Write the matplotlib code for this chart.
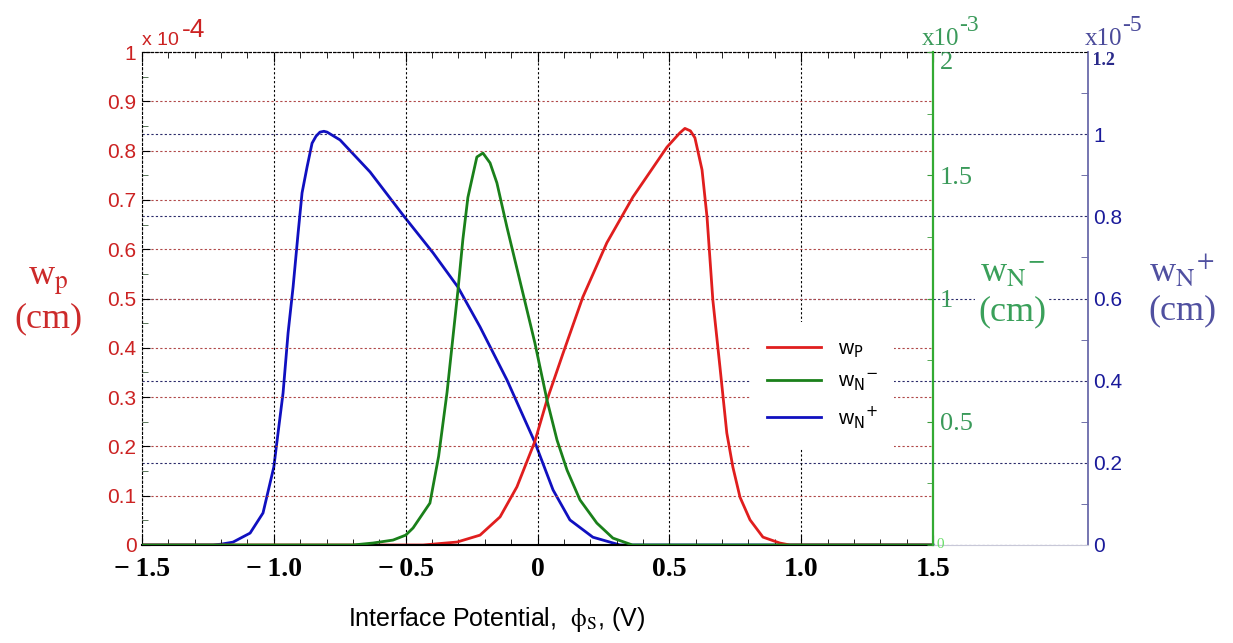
import matplotlib
matplotlib.use('Agg')
import matplotlib.pyplot as plt
from matplotlib.ticker import MultipleLocator, FixedLocator
import numpy as np

# curve data
phi_red = [-1.5, -0.434, -0.305, -0.218, -0.142, -0.078, -0.01, 0.036, 0.097, 0.172,
           0.263, 0.362, 0.491, 0.540, 0.559, 0.580, 0.597, 0.624, 0.643, 0.665,
           0.692, 0.718, 0.741, 0.768, 0.806, 0.855, 0.919, 0.957, 1.5]
w_p = [0, 0, 0.006, 0.020, 0.057, 0.118, 0.21, 0.294, 0.389, 0.503,
       0.613, 0.706, 0.807, 0.836, 0.845, 0.840, 0.826, 0.761, 0.665, 0.497,
       0.361, 0.227, 0.158, 0.097, 0.051, 0.016, 0.004, 0, 0]          # x 1e-4 cm

phi_green = [-1.5, -0.70, -0.624, -0.548, -0.5, -0.472, -0.408, -0.375, -0.343, -0.321,
             -0.302, -0.283, -0.264, -0.230, -0.207, -0.180, -0.154, -0.116, -0.055,
             -0.010, 0.036, 0.074, 0.112, 0.161, 0.225, 0.286, 0.36, 1.5]
w_nminus = [0, 0, 0.008, 0.020, 0.04, 0.069, 0.17, 0.36, 0.62, 0.84,
            1.03, 1.24, 1.41, 1.574, 1.590, 1.550, 1.469, 1.29, 1.02,
            0.82, 0.588, 0.426, 0.304, 0.183, 0.089, 0.028, 0, 0]          # x 1e-3 cm

phi_blue = [-1.5, -1.23, -1.2, -1.155, -1.09, -1.041, -1.0, -0.984, -0.965, -0.946,
            -0.927, -0.908, -0.893, -0.874, -0.855, -0.84, -0.825, -0.81, -0.798,
            -0.749, -0.635, -0.510, -0.396, -0.302, -0.218, -0.116, -0.01, 0.059,
            0.123, 0.210, 0.313, 1.5]
w_nplus = [0, 0, 0.002, 0.007, 0.029, 0.078, 0.19, 0.273, 0.370, 0.516,
           0.628, 0.759, 0.857, 0.920, 0.978, 0.995, 1.005, 1.007, 1.005,
           0.986, 0.908, 0.803, 0.711, 0.628, 0.531, 0.402, 0.25, 0.134,
           0.061, 0.019, 0, 0]                                             # x 1e-5 cm

x_ticks = [-1.5, -1.0, -0.5, 0, 0.5, 1.0, 1.5]
x_labels = ['\u2212\u20091.5', '\u2212\u20091.0', '\u2212\u20090.5', '0', '0.5', '1.0', '1.5']
red_ticks = [0, 0.1, 0.2, 0.3, 0.4, 0.5, 0.6, 0.7, 0.8, 0.9, 1]
red_labels = ['0', '0.1', '0.2', '0.3', '0.4', '0.5', '0.6', '0.7', '0.8', '0.9', '1']
green_ticks = [0.5, 1, 1.5, 2]
green_labels = ['0.5', '1', '1.5', '2']
blue_ticks = [0, 0.2, 0.4, 0.6, 0.8, 1.0]
blue_labels = ['0', '0.2', '0.4', '0.6', '0.8', '1']

SERIF = 'Liberation Serif'
SANS = 'Liberation Sans'
RED = '#e01e1e'
GREEN = '#1a801a'
BLUE = '#1010c0'
dots = (0, (2, 2))

W, H = 1233, 643
fig = plt.figure(figsize=(W / 100, H / 100), dpi=100)

# pixel frame of the main plot
x0, x1, x2 = 142, 933, 1088
ytop, ybot = 52, 545
left, bottom = x0 / W, 1 - ybot / H
width, height = (x1 - x0) / W, (ybot - ytop) / H
width_b = (x2 - x0) / W

# blue axis (extends to the far right spine)
ax_b = fig.add_axes([left, bottom, width_b, height], zorder=0)
ax_b.set_xlim(-1.5, -1.5 + 3.0 * (x2 - x0) / (x1 - x0))
ax_b.set_ylim(0, 1.2)
ax_b.plot(phi_blue, w_nplus, color=BLUE, lw=2)
ax_b.set_xticks([])
ax_b.yaxis.tick_right()
ax_b.set_yticks(blue_ticks)
ax_b.set_yticklabels(blue_labels, fontfamily=SANS, fontsize=15, color='#1a1a9a')
ax_b.yaxis.set_minor_locator(FixedLocator([0.1, 0.3, 0.5, 0.7, 0.9, 1.1]))
ax_b.tick_params(axis='y', which='both', direction='in', color='#5a5a9a', pad=4)
ax_b.tick_params(axis='y', which='major', length=0)
ax_b.tick_params(axis='y', which='minor', length=5)
ax_b.yaxis.grid(True, color='#2a2a6a', ls=dots, lw=0.8)
ax_b.spines['left'].set_visible(False)
ax_b.spines['right'].set_color('#6a6aaa')
ax_b.spines['right'].set_linewidth(1.3)
ax_b.spines['bottom'].set_color('#c8c8d8')
ax_b.spines['top'].set_linestyle(dots)
ax_b.text(1.0, 1.2, ' 1.2', transform=ax_b.get_yaxis_transform(), ha='left', va='top',
          fontfamily=SERIF, fontweight='bold', fontsize=13, color='#2a2a8a')

# main axis (red)
ax = fig.add_axes([left, bottom, width, height], zorder=1)
ax.patch.set_visible(False)
ax.set_xlim(-1.5, 1.5)
ax.set_ylim(0, 1)
l_p, = ax.plot(phi_red, w_p, color=RED, lw=2)
ax.set_xticks(x_ticks)
ax.set_xticklabels(x_labels, fontfamily=SERIF, fontweight='bold', fontsize=20)
ax.xaxis.set_minor_locator(MultipleLocator(0.1))
ax.set_yticks(red_ticks)
ax.set_yticklabels(red_labels, fontfamily=SANS, fontsize=15, color='#cc2222')
ax.yaxis.set_minor_locator(MultipleLocator(0.05))
ax.tick_params(axis='x', which='both', direction='in', top=True, pad=9)
ax.tick_params(axis='x', which='major', length=7)
ax.tick_params(axis='x', which='minor', length=4)
ax.tick_params(axis='y', which='both', direction='in', right=True, pad=4)
ax.tick_params(axis='y', which='major', length=6)
ax.tick_params(axis='y', which='minor', length=4, color='#406040')
ax.xaxis.grid(True, color='black', ls=dots, lw=0.8)
ax.yaxis.grid(True, color='#b04848', ls=dots, lw=0.8)
ax.spines['left'].set_linestyle(dots)
ax.spines['top'].set_linestyle(dots)
ax.spines['bottom'].set_linewidth(1.5)
ax.spines['right'].set_visible(False)

# green axis
ax_g = ax.twinx()
ax_g.set_zorder(2)
ax_g.patch.set_visible(False)
ax_g.set_ylim(0, 2)
l_nm, = ax_g.plot(phi_green, w_nminus, color=GREEN, lw=2)
ax_g.set_yticks(green_ticks)
ax_g.set_yticklabels(green_labels, fontfamily=SERIF, fontsize=19, color='#3a9a5a')
ax_g.yaxis.set_minor_locator(MultipleLocator(0.25))
ax_g.tick_params(axis='y', which='both', direction='in', length=4, color='#3a9a3a', pad=5)
for lab in ax_g.get_yticklabels():
    if lab.get_text() == '2':
        lab.set_verticalalignment('top')
for s in ['left', 'top', 'bottom']:
    ax_g.spines[s].set_visible(False)
ax_g.spines['right'].set_color('#33aa33')
ax_g.spines['right'].set_linewidth(1.6)
ax_g.text(1.0, 0, ' 0', transform=ax_g.get_yaxis_transform(), ha='left', va='center',
          fontfamily=SERIF, fontsize=11, color='#66dd66')

l_np, = ax.plot([], [], color=BLUE, lw=2)
leg = ax_g.legend([l_p, l_nm, l_np],
                  [r'w$_{\mathsf{P}}$', r'w$_{\mathsf{N}}$$^{\mathsf{-}}$',
                   r'w$_{\mathsf{N}}$$^{\mathsf{+}}$'],
                  loc='upper left', bbox_to_anchor=(740 / W, 1 - 312 / H),
                  bbox_transform=fig.transFigure, prop={'family': SANS, 'size': 15},
                  frameon=True, fancybox=False, framealpha=1, edgecolor='none',
                  handlelength=2.6, labelspacing=0.55, borderpad=0.8)

# exponent labels at the top
fig.text(x0 / W, 1 - 45 / H, 'x 10', fontfamily=SANS, fontsize=14, color='#cc2222')
fig.text(182 / W, 1 - 37 / H, '-4', fontfamily=SANS, fontsize=19, color='#cc2222')
fig.text(922 / W, 1 - 45 / H, 'x10', fontfamily=SERIF, fontsize=18, color='#3a9a5a')
fig.text(959 / W, 1 - 31 / H, '-3', fontfamily=SERIF, fontsize=17, color='#3a9a5a')
fig.text(1085 / W, 1 - 45 / H, 'x10', fontfamily=SERIF, fontsize=18, color='#4a4a9a')
fig.text(1122 / W, 1 - 31 / H, '-5', fontfamily=SERIF, fontsize=17, color='#4a4a9a')

# axis titles
fig.text(48 / W, 1 - 300 / H, 'w$_\\mathrm{p}$\n(cm)', ha='center', va='center',
         fontfamily=SERIF, math_fontfamily='stix', fontsize=26, color='#cc2a2a',
         linespacing=1.2)
fig.text(1012 / W, 1 - 293 / H, 'w$_\\mathrm{N}$$^{\\mathrm{-}}$\n(cm)', ha='center',
         va='center', fontfamily=SERIF, math_fontfamily='stix', fontsize=26,
         color='#3aa05a', linespacing=1.2,
         bbox=dict(facecolor='white', edgecolor='none', pad=2))
fig.text(1182 / W, 1 - 290 / H, 'w$_\\mathrm{N}$$^{\\mathrm{+}}$\n(cm)', ha='center',
         va='center', fontfamily=SERIF, math_fontfamily='stix', fontsize=26,
         color='#5050a0', linespacing=1.2)
fig.text(496 / W, 1 - 620 / H, 'Interface Potential,  $\\mathrm{\\phi}_\\mathrm{S}$, (V)',
         ha='center', va='center', fontfamily=SANS, math_fontfamily='stix', fontsize=18,
         color='black')

fig.savefig('out.png', dpi=100, facecolor='white')
